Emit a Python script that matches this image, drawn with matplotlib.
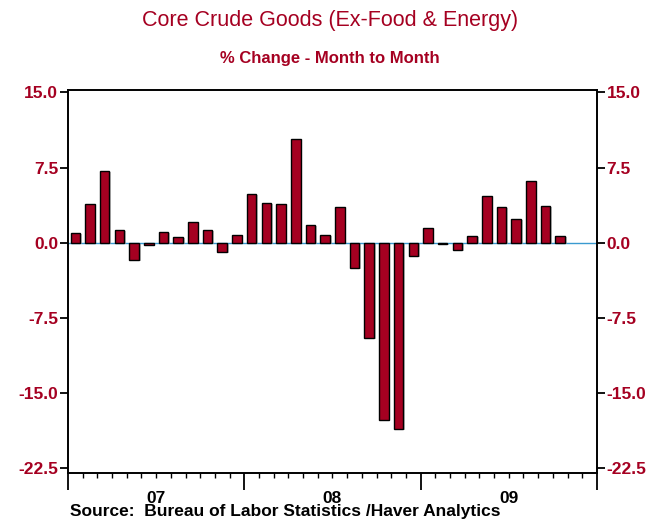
import matplotlib
matplotlib.use("Agg")
import matplotlib.pyplot as plt
import matplotlib.patheffects as pe
from matplotlib.ticker import FormatStrFormatter, FixedLocator

# ---- data ----
months = ["2007-01", "2007-02", "2007-03", "2007-04", "2007-05", "2007-06",
          "2007-07", "2007-08", "2007-09", "2007-10", "2007-11", "2007-12",
          "2008-01", "2008-02", "2008-03", "2008-04", "2008-05", "2008-06",
          "2008-07", "2008-08", "2008-09", "2008-10", "2008-11", "2008-12",
          "2009-01", "2009-02", "2009-03", "2009-04", "2009-05", "2009-06",
          "2009-07", "2009-08", "2009-09", "2009-10"]
values = [1.0, 3.9, 7.2, 1.3, -1.7, -0.2, 1.1, 0.6, 2.1, 1.3, -0.9, 0.8,
          4.9, 4.0, 3.9, 10.4, 1.8, 0.8, 3.6, -2.5, -9.5, -17.7, -18.6, -1.3,
          1.5, -0.1, -0.7, 0.7, 4.7, 3.6, 2.4, 6.2, 3.7, 0.7]
year_labels = ["07", "08", "09"]
y_ticks = [-22.5, -15.0, -7.5, 0.0, 7.5, 15.0]

title = "Core Crude Goods (Ex-Food & Energy)"
subtitle = "% Change - Month to Month"
source = "Source:  Bureau of Labor Statistics /Haver Analytics"

RED = "#A50021"
plt.rcParams['font.family'] = ['Liberation Sans', 'DejaVu Sans']

fig = plt.figure(figsize=(6.6, 5.21), dpi=100)
ax = fig.add_axes([0.1030, 0.0927, 0.8015, 0.7346])

n_months_total = 12 * len(year_labels)
x = [i + 0.5 for i in range(len(values))]
bars = ax.bar(x, values, width=0.65, color=RED, edgecolor="black", linewidth=1.0, zorder=3)
for b in bars:
    b.set_path_effects([pe.SimplePatchShadow(offset=(1.2, -1.2), shadow_rgbFace="#999999", alpha=0.6), pe.Normal()])

ax.axhline(0, color="#3A9AD0", linewidth=1.0, zorder=2)

ax.set_xlim(0, n_months_total)
ax.set_ylim(-23.0, 15.25)

ax.set_yticks(y_ticks)
ax.yaxis.set_major_formatter(FormatStrFormatter("%.1f"))
ax.tick_params(axis="y", which="major", direction="out", length=6, width=1.3,
               left=True, right=True, labelleft=True, labelright=True,
               labelsize=12.5, labelcolor=RED, pad=1)
for lab in ax.get_yticklabels():
    lab.set_fontweight("bold")

major_x = [12 * k for k in range(len(year_labels) + 1)]
ax.set_xticks(major_x)
ax.set_xticklabels([""] * len(major_x))
ax.xaxis.set_minor_locator(FixedLocator([m for m in range(n_months_total + 1) if m % 12 != 0]))
ax.tick_params(axis="x", which="major", direction="out", length=12, width=1.3)
ax.tick_params(axis="x", which="minor", direction="out", length=3.5, width=1.0)

for k, yl in enumerate(year_labels):
    ax.text(12 * k + 6, -0.068, yl, transform=ax.get_xaxis_transform(),
            ha="center", va="center", fontsize=12.5, fontweight="bold", color="black")

for s in ax.spines.values():
    s.set_linewidth(1.4)
    s.set_color("black")

fig.text(0.50, 0.960, title, ha="center", va="center", fontsize=15.5, color=RED)
fig.text(0.50, 0.888, subtitle, ha="center", va="center", fontsize=12, fontweight="bold", color=RED)
fig.text(0.106, 0.019, source, ha="left", va="center", fontsize=12.5, fontweight="bold", color="black")

fig.savefig("out.png", dpi=100)
